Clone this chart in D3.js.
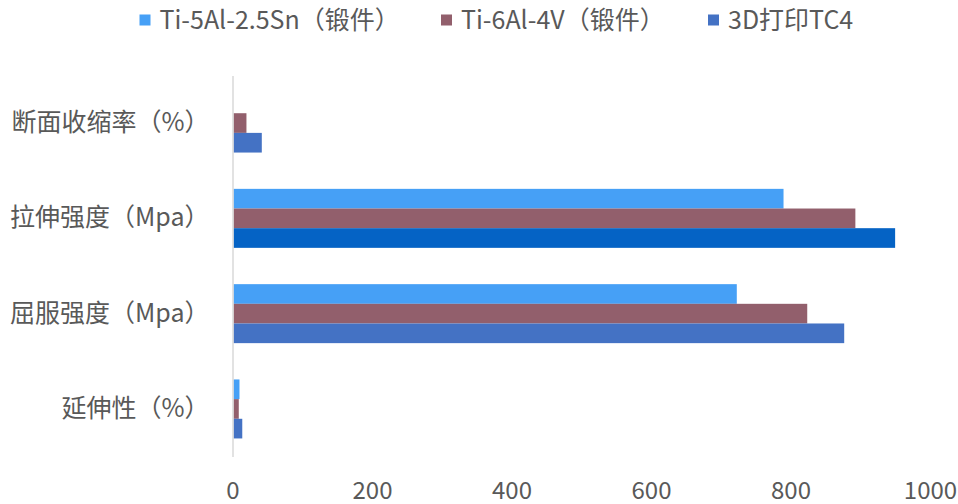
<!DOCTYPE html>
<html>
<head>
<meta charset="utf-8">
<script src="https://cdn.jsdelivr.net/npm/d3@7"></script>
<style>
  body { margin: 0; background: #fff; }
  svg text { font-family: "Noto Sans CJK SC", "Microsoft YaHei", sans-serif; fill: #595959; }
</style>
</head>
<body>
<svg id="chart" width="958" height="504"></svg>
<script>
// Mechanical properties of titanium alloys
const categories = ["断面收缩率（%）", "拉伸强度（Mpa）", "屈服强度（Mpa）", "延伸性（%）"];
const seriesNames = ["Ti-5Al-2.5Sn（锻件）", "Ti-6Al-4V（锻件）", "3D打印TC4"];
const ti5Al25Sn = [null, 790, 723, 10];
const ti6Al4V = [20, 893, 824, 9];
const tc4Printed = [42, 950, 877, 14];
const xTickValues = [0, 200, 400, 600, 800, 1000];

const seriesValues = [ti5Al25Sn, ti6Al4V, tc4Printed];
const seriesColors = ["#46A0F6", "#925F6C", "#4472C4"];
// one highlighted point: printed TC4 tensile strength
const highlight = { series: 2, category: "拉伸强度（Mpa）", color: "#0563C5" };

const svg = d3.select("#chart");

const x = d3.scaleLinear().domain([0, 1000]).range([232.5, 930]);
const y = d3.scaleBand().domain(categories).range([75.4, 456.6])
  .paddingInner(0.381).paddingOuter(0.1905);
const ySub = d3.scaleBand().domain(d3.range(seriesNames.length)).range([0, y.bandwidth()]);

// bars
const groups = svg.append("g").selectAll("g")
  .data(seriesValues)
  .join("g")
  .attr("fill", (d, i) => seriesColors[i]);

groups.each(function (vals, si) {
  d3.select(this).selectAll("rect")
    .data(categories.map((c, ci) => ({ c, v: vals[ci] })).filter(d => d.v != null))
    .join("rect")
    .attr("x", x(0) + 1)
    .attr("y", d => y(d.c) + ySub(si))
    .attr("width", d => Math.max(0, x(d.v) - x(0) - 1))
    .attr("height", ySub.bandwidth())
    .attr("fill", d => (si === highlight.series && d.c === highlight.category) ? highlight.color : null);
});

// category axis
const yAxis = svg.append("g")
  .attr("transform", `translate(${x(0)},0)`)
  .call(d3.axisLeft(y).tickSize(0).tickSizeOuter(0).tickPadding(23));
yAxis.select(".domain").attr("stroke", "#D9D9D9").attr("stroke-width", 1.5);
yAxis.selectAll("text").attr("font-size", 25).attr("font-family", null).attr("fill", null);

// value axis labels
const xAxis = svg.append("g")
  .attr("transform", "translate(0,498.5)")
  .call(d3.axisBottom(x).tickValues(xTickValues).tickSize(0).tickFormat(d3.format("d")));
xAxis.select(".domain").remove();
xAxis.selectAll("text").attr("y", 0).attr("dy", 0)
  .attr("font-size", 24).attr("font-family", null).attr("fill", null);

// legend
const legendX = [139.5, 441, 708];
const legend = svg.append("g").selectAll("g")
  .data(seriesNames)
  .join("g")
  .attr("transform", (d, i) => `translate(${legendX[i]},20)`);
legend.append("rect")
  .attr("x", 0).attr("y", -5.5).attr("width", 11).attr("height", 11)
  .attr("fill", (d, i) => seriesColors[i]);
legend.append("text")
  .attr("x", 20).attr("dy", "0.35em")
  .attr("font-size", 25)
  .text(d => d);
</script>
</body>
</html>
